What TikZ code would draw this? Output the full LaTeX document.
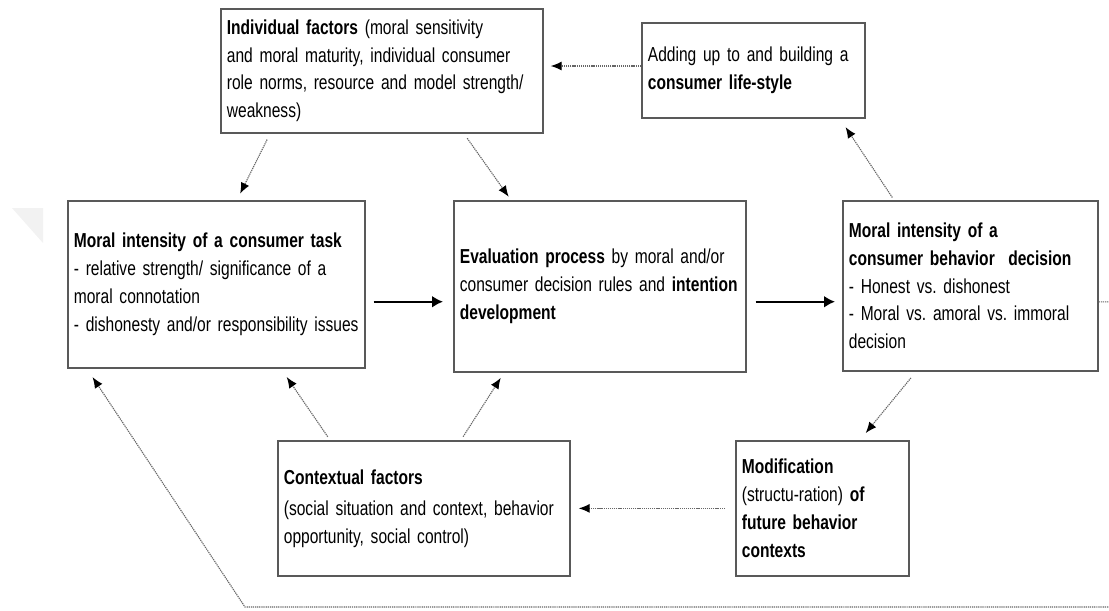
\documentclass[tikz,border=0pt]{standalone}
\usepackage{fontspec}
\setmainfont{Liberation Sans}[FakeStretch=0.77]
\usepackage{tikz}
\usetikzlibrary{arrows.meta,calc}
\frenchspacing
\newcommand\boxfont{\fontsize{11.5}{15.8}\selectfont}
\tikzset{>={Latex[length=0.22cm,width=0.18cm,color=black]}}
\tikzset{
  box/.style={draw=black!65, line width=1pt, anchor=north west, align=left,
    inner xsep=0.12cm, inner ysep=0pt, font=\boxfont},
  flow/.style={->, draw=black!60, line width=0.65pt,
    dash pattern=on 0.7pt off 0.5pt},
  main/.style={->, line width=1.3pt, >={Latex[length=0.22cm,width=0.24cm]}}
}

\begin{document}
\begin{tikzpicture}[x=0.02cm,y=-0.02cm]
\clip (0,0) rectangle (1109,610);
\fill[gray!10] (12,208) -- (43,208) -- (43,243) -- cycle;
\node[box, text width=6.2cm, minimum height=2.48cm] (indiv) at (220,8)
  {\textbf{Individual factors} (moral sensitivity\\
   and moral maturity, individual consumer\\
   role norms, resource and model strength/\\
   weakness)};
\node[box, text width=4.22cm, minimum height=1.9cm] (life) at (641,22)
  {Adding up to and building a\\ \textbf{consumer life-style}\\[3pt]};
\node[box, text width=5.7cm, minimum height=3.34cm] (task) at (67,200)
  {\textbf{Moral intensity of a consumer task}\\
   - relative strength/ significance of a\\
   moral connotation\\
   - dishonesty and/or responsibility issues};
\node[box, text width=5.6cm, minimum height=3.42cm] (eval) at (453,200)
  {\textbf{Evaluation process} by moral and/or\\
   consumer decision rules and \textbf{intention}\\
   \textbf{development}};
\node[box, text width=4.86cm, minimum height=3.4cm] (dec) at (842,200)
  {\textbf{Moral intensity of a}\\
   \textbf{consumer behavior\ \ decision}\\
   - Honest vs. dishonest\\
   - Moral vs. amoral vs. immoral\\
   decision};
\node[box, text width=5.6cm, minimum height=2.7cm] (ctx) at (277,440)
  {\textbf{Contextual factors}\\[2pt]
   (social situation and context, behavior\\
   opportunity, social control)\\[30pt]};
\node[box, text width=3.22cm, minimum height=2.7cm] (mod) at (735,440)
  {\textbf{Modification}\\
   (structu-ration) \textbf{of}\\
   \textbf{future behavior}\\
   \textbf{contexts}};
\coordinate (fbR) at (1130,607);
\coordinate (fbL) at (245,607);

\draw[main, shorten >=0.2cm] ($(task.south east)+(8,-67)$) coordinate (m1)
  -- (m1 -| eval.west);
\draw[main, shorten >=0.14cm] ($(eval.south east)+(9,-71)$) coordinate (m2)
  -- (m2 -| dec.west);
\draw[flow, shorten >=0.14cm] (life.west |- 0,66) -- (indiv.east |- 0,66);
\draw[flow, shorten <=0.13cm, shorten >=0.14cm]
  ($(indiv.south west)+(50,0)$) -- ($(task.north west)+(170,0)$);
\draw[flow, shorten <=0.11cm, shorten >=0.08cm]
  ($(indiv.south west)+(244,0)$) -- ($(eval.north west)+(58,0)$);
\draw[flow, shorten <=0.06cm, shorten >=0.2cm]
  ($(dec.north west)+(52,0)$) -- ($(life.south west)+(199,0)$);
\draw[flow, shorten <=0.16cm, shorten >=0.18cm]
  ($(dec.south west)+(74,0)$) -- ($(mod.north west)+(125,0)$);
\draw[flow, shorten <=0.2cm, shorten >=0.16cm] (mod.west) -- (ctx.east);
\draw[flow, shorten <=0.08cm, shorten >=0.2cm]
  ($(ctx.north west)+(53,0)$) -- ($(task.south west)+(214,0)$);
\draw[flow, shorten <=0.08cm, shorten >=0.12cm]
  ($(ctx.north west)+(184,0)$) -- ($(eval.south west)+(51,0)$);
\draw[flow, shorten >=0.2cm]
  ($(dec.east)+(0,16)$) -| (fbR) -- (fbL) -- ($(task.south west)+(20,0)$);
\end{tikzpicture}
\end{document}
